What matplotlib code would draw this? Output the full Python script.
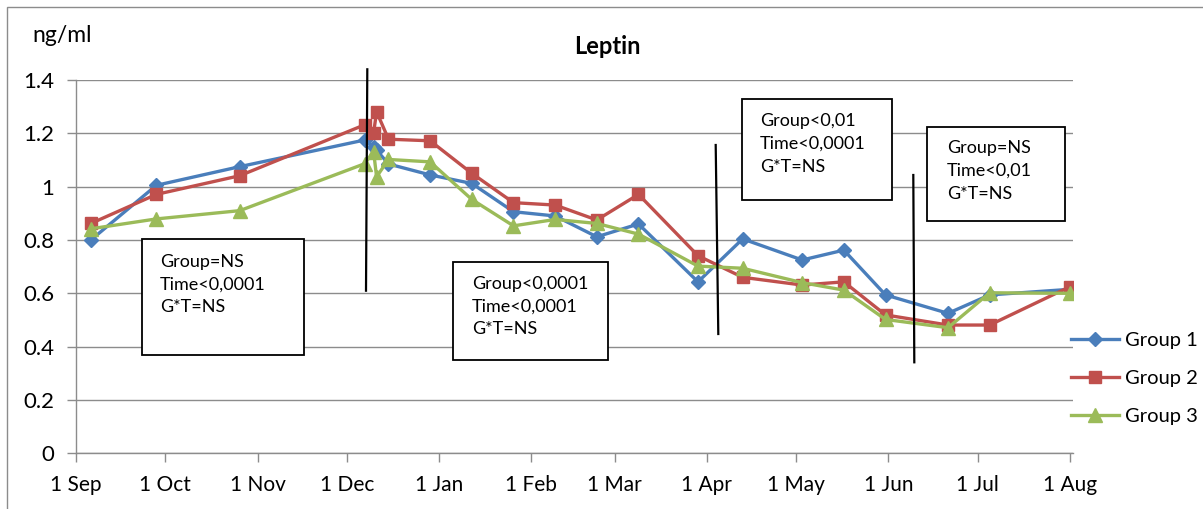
import matplotlib
matplotlib.use("Agg")
import matplotlib.pyplot as plt
from matplotlib.patches import Rectangle
from matplotlib.lines import Line2D
import datetime as dt

plt.rcParams['font.family'] = ['Lato', 'DejaVu Sans']

# ---- data ----
dates = ["2010-09-06", "2010-09-28", "2010-10-26", "2010-12-07", "2010-12-10",
         "2010-12-11", "2010-12-15", "2010-12-29", "2011-01-12", "2011-01-26",
         "2011-02-09", "2011-02-23", "2011-03-09", "2011-03-29", "2011-04-13",
         "2011-05-03", "2011-05-17", "2011-05-31", "2011-06-21", "2011-07-05",
         "2011-08-01"]
group1 = [0.80, 1.005, 1.075, 1.175, 1.15, 1.137, 1.085, 1.044, 1.012, 0.906,
          0.89, 0.812, 0.86, 0.643, 0.804, 0.725, 0.762, 0.594, 0.525, 0.594, 0.615]
group2 = [0.862, 0.971, 1.041, 1.232, 1.202, 1.281, 1.178, 1.172, 1.05, 0.94,
          0.931, 0.875, 0.971, 0.741, 0.66, 0.631, 0.643, 0.519, 0.481, 0.481, 0.625]
group3 = [0.842, 0.879, 0.91, 1.086, 1.131, 1.037, 1.102, 1.093, 0.952, 0.853,
          0.877, 0.862, 0.822, 0.702, 0.694, 0.64, 0.612, 0.502, 0.471, 0.602, 0.60]
series_names = ["Group 1", "Group 2", "Group 3"]
tick_dates = ["2010-09-01", "2010-10-01", "2010-11-01", "2010-12-01", "2011-01-01",
              "2011-02-01", "2011-03-01", "2011-04-01", "2011-05-01", "2011-06-01",
              "2011-07-01", "2011-08-01"]
tick_labels = ["1 Sep", "1 Oct", "1 Nov", "1 Dec", "1 Jan", "1 Feb", "1 Mar",
               "1 Apr", "1 May", "1 Jun", "1 Jul", "1 Aug"]
box_texts = ["Group=NS\nTime<0,0001\nG*T=NS",
             "Group<0,0001\nTime<0,0001\nG*T=NS",
             "Group<0,01\nTime<0,0001\nG*T=NS",
             "Group=NS\nTime<0,01\nG*T=NS"]

W, H = 1203, 509
fig = plt.figure(figsize=(W / 100, H / 100), dpi=100)

def fx(px):
    return px / W

def fy(py):
    return 1 - py / H

ax = fig.add_axes([fx(76), fy(453.3), fx(1073) - fx(76), fy(80) - fy(453.3)])

x = [dt.datetime.strptime(d, "%Y-%m-%d") for d in dates]
colors = ["#4A7EBB", "#C0504D", "#9BBB59"]
markers = ["D", "s", "^"]
msizes = [7.5, 8, 9.5]
handles = []
for vals, c, m, ms, name in zip([group1, group2, group3], colors, markers, msizes, series_names):
    h, = ax.plot(x, vals, color=c, lw=2.4, marker=m, markersize=ms,
                 markeredgecolor=c, label=name, zorder=3)
    handles.append(h)

ax.set_ylim(0, 1.4)
ax.set_yticks([0, 0.2, 0.4, 0.6, 0.8, 1.0, 1.2, 1.4])
ax.set_yticklabels(["0", "0.2", "0.4", "0.6", "0.8", "1", "1.2", "1.4"])
ax.set_xlim(dt.datetime(2010, 9, 1), dt.datetime(2011, 8, 2))
ax.set_xticks([dt.datetime.strptime(d, "%Y-%m-%d") for d in tick_dates])
ax.set_xticklabels(tick_labels)

grid_c = "#8C8C8C"
ax.grid(axis='y', color=grid_c, lw=1.0, zorder=0)
ax.grid(axis='x', visible=False)
for s in ["top", "right"]:
    ax.spines[s].set_visible(False)
for s in ["left", "bottom"]:
    ax.spines[s].set_color(grid_c)
    ax.spines[s].set_linewidth(1.0)
ax.tick_params(axis='both', colors=grid_c, labelcolor="#000000",
               length=6.5, width=1.0, direction='out')
ax.tick_params(axis='x', pad=9, labelsize=15)
ax.tick_params(axis='y', pad=9, labelsize=16)

# title and unit
fig.text(fx(607), fy(46), "Leptin", ha='center', va='center', fontsize=17,
         fontweight='bold')
fig.text(fx(32), fy(36), "ng/ml", ha='left', va='center', fontsize=16.5)

# vertical separator lines
vlines = [((367.3, 69.3), (366, 290.7)), ((715.7, 145), (718.3, 334)),
          ((913.3, 175), (914.3, 362.3))]
for (x0, y0), (x1, y1) in vlines:
    fig.add_artist(Line2D([fx(x0), fx(x1)], [fy(y0), fy(y1)], color='black',
                          lw=1.6, transform=fig.transFigure, zorder=5))

# annotation boxes (left, top, right, bottom) and text starting positions
boxes = [(141.7, 239.3, 304, 355), (453.3, 262.3, 608.3, 360),
         (741.7, 99, 891.7, 200), (927.3, 127.3, 1065, 221)]
text_pos = [(160, 253.5), (471.7, 275.5), (760, 113), (946.7, 140)]
for (l, t, r, b), (tx, ty), txt in zip(boxes, text_pos, box_texts):
    fig.add_artist(Rectangle((fx(l), fy(b)), fx(r) - fx(l), fy(t) - fy(b),
                             transform=fig.transFigure, facecolor='white',
                             edgecolor='black', lw=1.3, zorder=6))
    fig.text(fx(tx), fy(ty), txt, ha='left', va='top', fontsize=13,
             linespacing=1.52, zorder=7)

# legend
leg = fig.legend(handles=handles, loc='center left',
                 bbox_to_anchor=(fx(1063), fy(378.5)), frameon=False,
                 fontsize=14.5, handlelength=2.4, labelspacing=1.03,
                 handletextpad=0.3, borderaxespad=0)

# outer chart border
fig.add_artist(Rectangle((fx(7), fy(520)), fx(1220) - fx(7), fy(7) - fy(520),
                         transform=fig.transFigure, facecolor='none',
                         edgecolor='#8C8C8C', lw=1.0, zorder=0))

fig.savefig("out.png", dpi=100)
